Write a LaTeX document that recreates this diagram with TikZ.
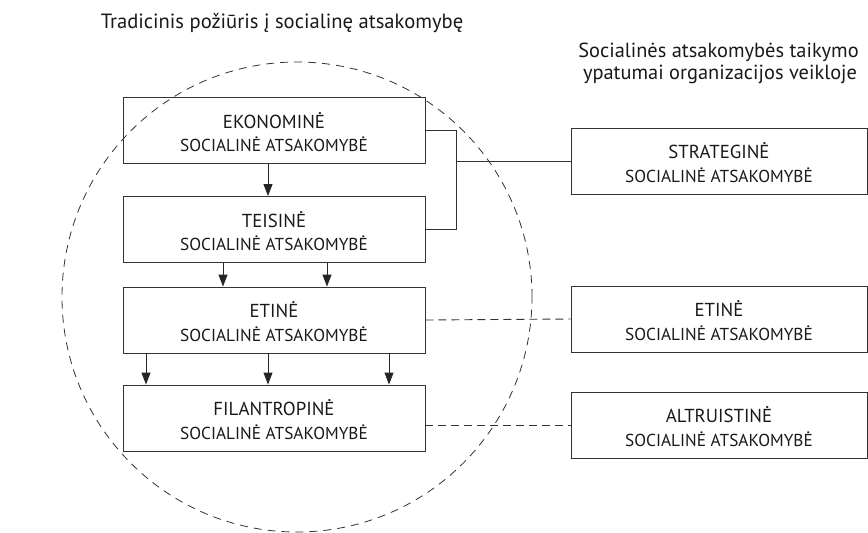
\documentclass[tikz,border=0pt]{standalone}
\usepackage{fontspec}
\setmainfont{PT Sans}
\usetikzlibrary{arrows.meta}
\begin{document}
\begin{tikzpicture}[x=1pt,y=-1pt,
  box/.style={draw=black!80,line width=0.9pt,rectangle,inner sep=0pt},
  lbox/.style={box,minimum width=302pt,minimum height=66pt},
  rbox/.style={box,minimum width=296pt,minimum height=66pt},
  hd/.style={anchor=base,inner sep=0pt,text=black!90,font=\fontsize{18.8}{22}\selectfont},
  sub/.style={anchor=base,inner sep=0pt,text=black!90,font=\fontsize{17.3}{20}\selectfont},
  arr/.style={draw=black!85,line width=0.9pt,-{Triangle[width=9pt,length=12pt]}},
  link/.style={draw=black!80,line width=0.9pt},
  dlink/.style={draw=black!80,line width=0.9pt,dash pattern=on 8pt off 5pt},
  ring/.style={draw=black!80,line width=0.8pt,dash pattern=on 8pt off 6pt},
  ttl/.style={anchor=base,inner sep=0pt,text=black!90}
]
\useasboundingbox (0,0) rectangle (868,533);
\draw[ring] (297,297) circle[radius=235pt];
\node[ttl,font=\fontsize{20.6}{24}\selectfont] (title) at (282,28) {Tradicinis požiūris į socialinę atsakomybę};
\node[ttl,font=\fontsize{20.4}{24}\selectfont] (rt1) at (718.5,57) {Socialinės atsakomybės taikymo};
\node[ttl,font=\fontsize{20.4}{24}\selectfont] (rt2) at (720,79) {ypatumai organizacijos veikloje};
\node[lbox] (ekon) at (274,130.5) {};
\node[lbox] (teis) at (274,229.5) {};
\node[lbox] (etin) at (274,320) {};
\node[lbox] (fil) at (274,418) {};
\node[rbox] (strat) at (719,161) {};
\node[rbox] (etinr) at (719,319) {};
\node[rbox] (alt) at (719,425) {};
\foreach \b/\t in {ekon/EKONOMINĖ,teis/TEISINĖ,etin/ETINĖ,fil/FILANTROPINĖ,strat/STRATEGINĖ,etinr/ETINĖ,alt/ALTRUISTINĖ}{
  \node[hd] (\b-h) at ([yshift=2.5pt]\b.center) {\t};
  \node[sub] (\b-s) at ([yshift=-21pt]\b.center) {SOCIALINĖ ATSAKOMYBĖ};
}
\coordinate (j) at (456,158);
\draw[link] (ekon.east) -- (ekon.east -| j) -- (teis.east -| j) -- (teis.east);
\draw[link] (strat.west -| j) -- (strat.west);
\draw[dlink] (etin.east) -- (etinr.west);
\draw[dlink] (alt.west -| fil.east) -- (alt.west);
\draw[arr] ([xshift=-6pt]ekon.south) -- ([xshift=-6pt]teis.north);
\draw[arr] ([xshift=-51pt]teis.south) -- ([xshift=-51pt]etin.north);
\draw[arr] ([xshift=53pt]teis.south) -- ([xshift=53pt]etin.north);
\draw[arr] ([xshift=-128pt]etin.south) -- ([xshift=-128pt]fil.north);
\draw[arr] ([xshift=-6pt]etin.south) -- ([xshift=-6pt]fil.north);
\draw[arr] ([xshift=115pt]etin.south) -- ([xshift=115pt]fil.north);
\end{tikzpicture}
\end{document}
